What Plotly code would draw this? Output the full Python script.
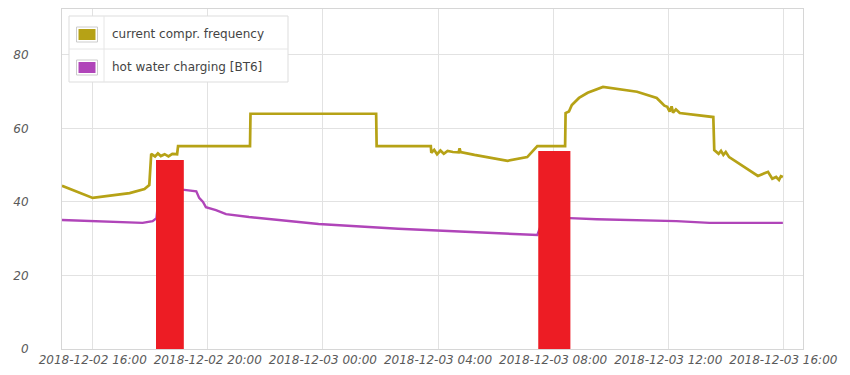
import plotly.graph_objects as go
import pandas as pd

# ---------------- data ----------------
freq_times = [
    "2018-12-02 14:56", "2018-12-02 16:00", "2018-12-02 17:17", "2018-12-02 17:48",
    "2018-12-02 17:58", "2018-12-02 18:02", "2018-12-02 18:10", "2018-12-02 18:16",
    "2018-12-02 18:22", "2018-12-02 18:30", "2018-12-02 18:38", "2018-12-02 18:46",
    "2018-12-02 18:56", "2018-12-02 18:58", "2018-12-02 21:28", "2018-12-02 21:29",
    "2018-12-03 01:51", "2018-12-03 01:52", "2018-12-03 03:45", "2018-12-03 03:46",
    "2018-12-03 03:52", "2018-12-03 03:58", "2018-12-03 04:05", "2018-12-03 04:12",
    "2018-12-03 04:20", "2018-12-03 04:31", "2018-12-03 04:43", "2018-12-03 04:45",
    "2018-12-03 04:47", "2018-12-03 05:16", "2018-12-03 06:25", "2018-12-03 07:06",
    "2018-12-03 07:27", "2018-12-03 08:25", "2018-12-03 08:26", "2018-12-03 08:33",
    "2018-12-03 08:39", "2018-12-03 08:54", "2018-12-03 09:12", "2018-12-03 09:44",
    "2018-12-03 10:55", "2018-12-03 11:36", "2018-12-03 11:46", "2018-12-03 11:52",
    "2018-12-03 11:58", "2018-12-03 12:03", "2018-12-03 12:07", "2018-12-03 12:10",
    "2018-12-03 12:16", "2018-12-03 12:24", "2018-12-03 13:34", "2018-12-03 13:36",
    "2018-12-03 13:45", "2018-12-03 13:50", "2018-12-03 13:55", "2018-12-03 14:00",
    "2018-12-03 14:07", "2018-12-03 15:07", "2018-12-03 15:28", "2018-12-03 15:37",
    "2018-12-03 15:45", "2018-12-03 15:51", "2018-12-03 15:55", "2018-12-03 15:59",
]
freq_values = [
    44.4, 41.1, 42.4, 43.5,
    44.6, 53.1, 52.4, 53.2,
    52.5, 53.0, 52.4, 53.1,
    53.0, 55.2, 55.2, 64.0,
    64.0, 55.2, 55.2, 53.4,
    54.2, 53.0, 54.0, 53.1,
    53.9, 53.6, 53.5, 54.6,
    53.6, 52.8, 51.2, 52.2,
    55.2, 55.2, 64.2, 64.6,
    66.4, 68.3, 69.7, 71.3,
    70.0, 68.3, 67.0, 66.2,
    65.9, 64.6, 66.0, 64.3,
    65.2, 64.2, 63.1, 54.1,
    53.1, 53.9, 52.8, 53.6,
    52.2, 47.1, 48.2, 46.3,
    46.8, 46.0, 47.0, 46.8,
]

hw_times = [
    "2018-12-02 14:56", "2018-12-02 16:00", "2018-12-02 17:44", "2018-12-02 18:05",
    "2018-12-02 18:13", "2018-12-02 18:19", "2018-12-02 19:11", "2018-12-02 19:36",
    "2018-12-02 19:42", "2018-12-02 19:50", "2018-12-02 19:56", "2018-12-02 20:17",
    "2018-12-02 20:38", "2018-12-02 21:26", "2018-12-02 23:51", "2018-12-03 02:37",
    "2018-12-03 06:04", "2018-12-03 07:27", "2018-12-03 07:40", "2018-12-03 08:35",
    "2018-12-03 09:31", "2018-12-03 12:17", "2018-12-03 13:26", "2018-12-03 15:59",
]
hw_values = [
    35.1, 34.8, 34.3, 34.8,
    35.6, 43.3, 43.3, 42.9,
    41.1, 40.0, 38.6, 37.8,
    36.7, 35.9, 34.0, 32.7,
    31.6, 31.0, 35.6, 35.6,
    35.3, 34.8, 34.3, 34.3,
]

bar_starts = ["2018-12-02 18:12", "2018-12-03 07:29"]
bar_ends = ["2018-12-02 19:10", "2018-12-03 08:36"]
bar_heights = [51.4, 53.9]

series_names = ["current compr. frequency", "hot water charging [BT6]"]
y_ticks = [0, 20, 40, 60, 80]

# ---------------- styling ----------------
OLIVE = "#B6A216"
PURPLE = "#B045B9"
RED = "#ED1C24"
FONT = "DejaVu Sans"

W, H = 850, 375
L, R, T, B = 62, 803, 9, 349  # plot area in pixels

def px(x):
    return (x - L) / (R - L)

def py(y):
    return (B - y) / (B - T)

fig = go.Figure()
fig.add_trace(go.Scatter(
    x=pd.to_datetime(freq_times), y=freq_values, mode="lines",
    line=dict(color=OLIVE, width=2.7), name=series_names[0], showlegend=False,
))
fig.add_trace(go.Scatter(
    x=pd.to_datetime(hw_times), y=hw_values, mode="lines",
    line=dict(color=PURPLE, width=2.4), name=series_names[1], showlegend=False,
))
# event bars drawn as filled areas so they sit on top of the lines
for s, e, h in zip(pd.to_datetime(bar_starts), pd.to_datetime(bar_ends), bar_heights):
    fig.add_trace(go.Scatter(
        x=[s, s, e, e, s], y=[0, h, h, 0, 0], mode="lines",
        fill="toself", fillcolor=RED, line=dict(width=0, color=RED),
        showlegend=False, hoverinfo="skip",
    ))

tickfont = dict(family=FONT, size=12, color="#5a5a5a", style="italic")

fig.update_layout(
    width=W, height=H,
    margin=dict(l=L, r=W - R, t=T, b=H - B, pad=0),
    paper_bgcolor="white", plot_bgcolor="white",
    xaxis=dict(
        type="date",
        range=["2018-12-02 14:56", "2018-12-03 16:41"],
        tick0="2018-12-02 00:00", dtick=4 * 3600 * 1000,
        tickformat="%Y-%m-%d %H:%M",
        showgrid=True, gridcolor="#e2e2e2", gridwidth=1,
        showline=True, linecolor="#d6d6d6", mirror=True,
        ticks="", tickfont=tickfont, zeroline=False, automargin=False,
    ),
    yaxis=dict(
        range=[0, 92.5],
        tickvals=y_ticks,
        showgrid=True, gridcolor="#e2e2e2", gridwidth=1,
        showline=True, linecolor="#d6d6d6", mirror=True,
        ticks="", tickfont=tickfont, zeroline=False,
        ticklabelstandoff=30, automargin=False,
    ),
    showlegend=False,
)

# manual legend (box with dividers, swatches, texts)
shapes = []
shapes.append(dict(type="rect", xref="paper", yref="paper",
                   x0=px(69), x1=px(288), y0=py(82), y1=py(16),
                   fillcolor="white", line=dict(color="#dddddd", width=1), layer="above"))
shapes.append(dict(type="line", xref="paper", yref="paper",
                   x0=px(69), x1=px(288), y0=py(49), y1=py(49),
                   line=dict(color="#e6e6e6", width=1), layer="above"))
shapes.append(dict(type="line", xref="paper", yref="paper",
                   x0=px(104), x1=px(104), y0=py(82), y1=py(16),
                   line=dict(color="#e6e6e6", width=1), layer="above"))
for (top, color) in [(27, OLIVE), (60, PURPLE)]:
    shapes.append(dict(type="rect", xref="paper", yref="paper",
                       x0=px(76.5), x1=px(97.5), y0=py(top + 15), y1=py(top),
                       fillcolor="white", line=dict(color="#cccccc", width=1), layer="above"))
    shapes.append(dict(type="rect", xref="paper", yref="paper",
                       x0=px(78.5), x1=px(95.5), y0=py(top + 13), y1=py(top + 2),
                       fillcolor=color, line=dict(width=0), layer="above"))
fig.update_layout(shapes=shapes)

for name, yc in zip(series_names, [34, 67]):
    fig.add_annotation(
        xref="paper", yref="paper", x=px(110), y=py(yc),
        xanchor="left", yanchor="middle", showarrow=False,
        text=name, font=dict(family=FONT, size=12, color="#444444"),
    )

fig.write_html("out.html", config={"displayModeBar": False},
               post_script="document.body.style.margin='0';")
